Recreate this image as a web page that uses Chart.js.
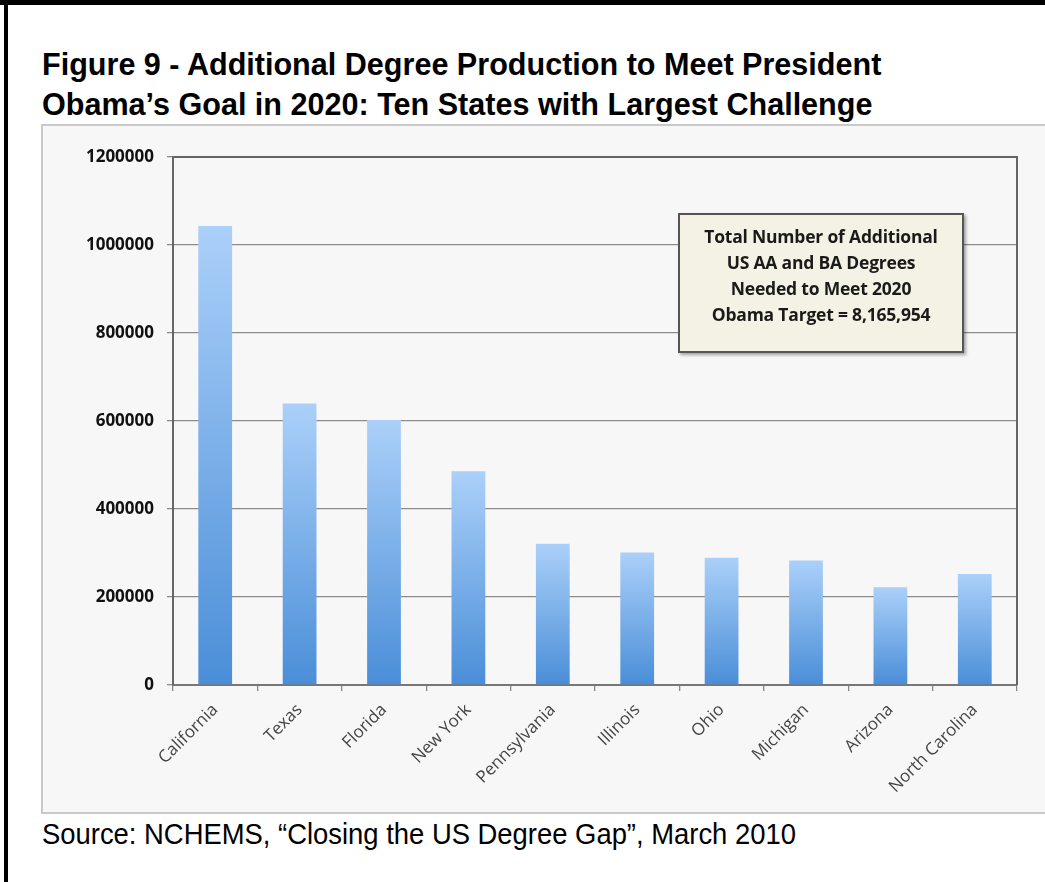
<!DOCTYPE html>
<html>
<head>
<meta charset="utf-8">
<script src="https://cdn.jsdelivr.net/npm/chart.js@4.4.1/dist/chart.umd.min.js"></script>
<style>
  html, body { margin: 0; padding: 0; background: #fff; overflow: hidden; }
  body { width: 1045px; height: 882px; position: relative; }
  .frame-top { position: absolute; left: 0; top: 0; width: 1045px; height: 5px; background: #000; }
  .frame-left { position: absolute; left: 4px; top: 0; width: 4px; height: 882px; background: #000; }
  .title {
    position: absolute; left: 42px; top: 44px; margin: 0; white-space: nowrap;
    font-family: "Liberation Sans Narrow", "Arial Narrow", "Liberation Sans", sans-serif;
    font-weight: bold; font-size: 32px; line-height: 40px; color: #000;
    transform: scaleX(0.955); transform-origin: left top;
  }
  .panel {
    position: absolute; left: 41px; top: 124px; width: 1020px; height: 690px;
    background: #f7f7f7; border: 2px solid #c9c9c9; box-sizing: border-box;
  }
  .chart-wrap { position: absolute; left: 42px; top: 125px; width: 1003px; height: 689px; }
  .note {
    position: absolute; left: 678px; top: 213px; width: 286px; height: 140px;
    box-sizing: border-box; background: #f4f2e4; border: 2px solid #555;
    box-shadow: 2px 2px 3px rgba(0,0,0,0.35);
    font-family: "Open Sans", sans-serif; font-weight: bold; font-size: 17.5px;
    line-height: 26px; text-align: center; color: #1a1a1a; padding-top: 8px;
    letter-spacing: -0.2px;
  }
  .source {
    position: absolute; left: 42px; top: 816px; margin: 0; white-space: nowrap;
    font-family: "Liberation Sans Narrow", "Arial Narrow", "Liberation Sans", sans-serif;
    font-size: 29px; line-height: 36px; color: #000;
    transform: scaleX(0.945); transform-origin: left top;
  }
</style>
</head>
<body>
<div class="frame-top"></div>
<div class="frame-left"></div>
<div class="title">Figure 9 - Additional Degree Production to Meet President<br>Obama’s Goal in 2020: Ten States with Largest Challenge</div>
<div class="panel"></div>
<div class="chart-wrap"><canvas id="chart"></canvas></div>
<div class="note">Total Number of Additional<br>US AA and BA Degrees<br>Needed to Meet 2020<br>Obama Target = 8,165,954</div>
<div class="source">Source: NCHEMS, “Closing the US Degree Gap”, March 2010</div>

<script>
// 各州需要新增的学位数
const states = ['California', 'Texas', 'Florida', 'New York', 'Pennsylvania',
  'Illinois', 'Ohio', 'Michigan', 'Arizona', 'North Carolina']
const additionalDegrees = [1043000, 640000, 602000, 486000, 321000,
  301000, 289000, 283000, 222000, 252000]
const yTicks = [0, 200000, 400000, 600000, 800000, 1000000, 1200000]

// 每根柱子自上而下的渐变
function barGradient(ctx) {
  const chart = ctx.chart
  const area = chart.chartArea
  if (!area) return '#7aaee8'
  const y = chart.scales.y
  const top = y.getPixelForValue(ctx.raw)
  const base = y.getPixelForValue(0)
  const g = chart.ctx.createLinearGradient(0, top, 0, base)
  g.addColorStop(0, '#abd0f9')
  g.addColorStop(1, '#4a8ed8')
  return g
}

// 绘图区上边和右边的框线
const plotFrame = {
  id: 'plotFrame',
  afterDatasetsDraw(chart) {
    const { ctx, chartArea: a } = chart
    ctx.save()
    ctx.strokeStyle = '#666'
    ctx.lineWidth = 2
    ctx.beginPath()
    ctx.moveTo(a.left, a.top)
    ctx.lineTo(a.right, a.top)
    ctx.lineTo(a.right, a.bottom)
    ctx.stroke()
    ctx.restore()
  }
}

new Chart(document.getElementById('chart'), {
  type: 'bar',
  data: {
    labels: states,
    datasets: [{
      data: additionalDegrees,
      backgroundColor: barGradient,
      borderWidth: 0,
      barPercentage: 0.4,
      categoryPercentage: 1
    }]
  },
  options: {
    responsive: true,
    maintainAspectRatio: false,
    animation: false,
    layout: { padding: { top: 32, right: 28, left: 0, bottom: 0 } },
    plugins: { legend: { display: false }, tooltip: { enabled: false } },
    scales: {
      x: {
        afterFit: s => { s.height = 129 },
        grid: { drawOnChartArea: false, drawTicks: true, tickLength: 6, color: '#888', lineWidth: 1.3 },
        border: { color: '#777', width: 2 },
        ticks: {
          minRotation: 45, maxRotation: 45, padding: 9, autoSkip: false,
          color: '#444',
          font: { family: 'Open Sans', size: 17 }
        }
      },
      y: {
        min: 0, max: 1200000,
        afterFit: s => { s.width = 131 },
        afterBuildTicks: s => { s.ticks = yTicks.map(v => ({ value: v })) },
        grid: { color: '#8c8c8c', lineWidth: 1.3, tickLength: 6 },
        border: { color: '#666', width: 2 },
        ticks: {
          padding: 13, color: '#111',
          font: { family: 'Open Sans', size: 17, weight: 'bold' },
          callback: v => String(v)
        }
      }
    }
  },
  plugins: [plotFrame]
})
</script>
</body>
</html>
